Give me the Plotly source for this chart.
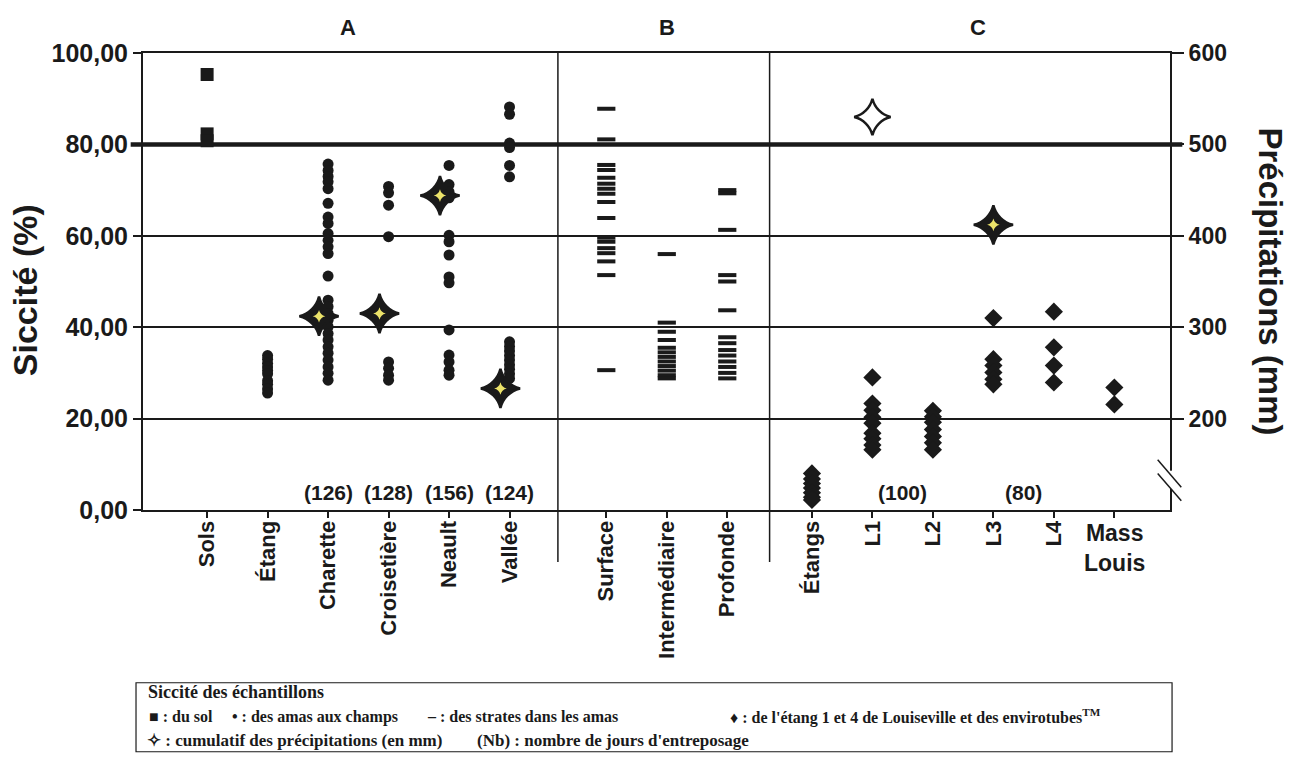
import plotly.graph_objects as go

# ---------------- categories ----------------
cats_A = ["Sols", "Étang", "Charette", "Croisetière", "Neault", "Vallée"]
cats_B = ["Surface", "Intermédiaire", "Profonde"]
cats_C = ["Étangs", "L1", "L2", "L3", "L4", "Mass Louis"]
section_names = ["A", "B", "C"]
horizontal_label = "Mass Louis"   # this tick label is written horizontally in the source

# ---------------- siccité (%) ----------------
# soil (squares)
siccite_sols = [95.3, 82.3, 80.8]
# field piles (dots)
siccite_etang = [33.8, 33.0, 32.1, 31.3, 30.5, 29.8, 28.3, 27.5, 26.5, 25.6]
siccite_charette = [75.7, 74.3, 73.0, 71.8, 70.3, 67.1, 64.1, 62.7, 60.5, 59.0, 57.6,
                    56.1, 51.2, 45.9, 44.5, 43.0, 41.5, 40.1, 38.6, 37.2, 35.7, 34.3,
                    32.8, 31.3, 29.9, 28.4]
siccite_croisetiere = [70.8, 69.4, 66.7, 59.8, 32.4, 31.0, 29.5, 28.4]
siccite_neault = [75.4, 71.2, 69.6, 68.3, 60.1, 58.7, 55.8, 51.0, 49.7, 39.4, 33.9,
                  32.4, 30.6, 29.5]
siccite_vallee = [88.2, 86.6, 80.3, 79.3, 75.4, 72.9, 36.8, 35.8, 34.8, 33.8, 32.8,
                  31.8, 30.8, 29.8, 28.8]
# strata in piles (dashes)
siccite_surface = [87.8, 81.1, 75.5, 74.4, 72.7, 71.4, 70.3, 69.2, 67.4, 63.9, 59.6,
                   58.7, 57.3, 56.2, 54.4, 51.4, 30.6]
siccite_intermediaire = [56.0, 41.0, 39.0, 37.2, 35.5, 34.5, 33.5, 32.5, 31.5, 30.5,
                         29.5, 28.8]
siccite_profonde = [70.0, 69.3, 61.3, 51.4, 50.0, 43.7, 37.8, 36.5, 35.0, 33.8, 32.5,
                    31.3, 30.0, 28.8]
# ponds / envirotubes (diamonds)
siccite_etangs = [8.0, 6.8, 5.8, 4.8, 3.8, 2.8, 2.2]
siccite_l1 = [29.0, 23.3, 21.8, 20.3, 19.0, 16.8, 15.6, 14.2, 13.2]
siccite_l2 = [21.7, 20.4, 19.2, 17.6, 16.1, 14.7, 13.2]
siccite_l3 = [42.0, 33.0, 31.6, 30.1, 28.6, 27.5]
siccite_l4 = [43.4, 35.6, 31.6, 27.9]
siccite_mass = [26.8, 23.1]

# ---------------- cumulative precipitation (mm) ----------------
precip_cats = ["Charette", "Croisetière", "Neault", "Vallée", "L1", "L3"]
precip_mm = [312, 315, 444, 233, 530, 412]
precip_open = ["L1"]          # star drawn hollow (white) in the source

# ---------------- storage days ----------------
days_values = [126, 128, 156, 124, 100, 80]
days_between = [("Charette", "Charette"), ("Croisetière", "Croisetière"),
                ("Neault", "Neault"), ("Vallée", "Vallée"), ("L1", "L2"), ("L3", "L4")]

y_ticks = [0, 20, 40, 60, 80, 100]
y2_ticks = [200, 300, 400, 500, 600]

# ---------------- layout helpers ----------------
section_start = {"A": 0.0, "B": 6.6, "C": 10.0}
pos = {}
for sec, cats in zip(section_names, [cats_A, cats_B, cats_C]):
    for i, c in enumerate(cats):
        pos[c] = section_start[sec] + i

FONT = "Liberation Sans, Arial, sans-serif"
SERIF = "Liberation Serif, Times New Roman, serif"
BLACK = "#1a1a1a"

fig = go.Figure()


def add_group(groups, symbol, size, extra=None):
    xs, ys = [], []
    for cat, vals in groups:
        xs += [pos[cat]] * len(vals)
        ys += vals
    marker = dict(symbol=symbol, size=size, color=BLACK, opacity=1)
    if extra:
        marker.update(extra)
    fig.add_trace(go.Scatter(x=xs, y=ys, mode="markers", marker=marker,
                             hoverinfo="y", showlegend=False))


add_group([("Sols", siccite_sols)], "square", 13)
add_group([("Étang", siccite_etang), ("Charette", siccite_charette),
           ("Croisetière", siccite_croisetiere), ("Neault", siccite_neault),
           ("Vallée", siccite_vallee)], "circle", 11)
add_group([("Surface", siccite_surface), ("Intermédiaire", siccite_intermediaire),
           ("Profonde", siccite_profonde)], "line-ew", 13,
          dict(line=dict(width=4, color=BLACK)))
add_group([("Étangs", siccite_etangs), ("L1", siccite_l1), ("L2", siccite_l2),
           ("L3", siccite_l3), ("L4", siccite_l4), ("Mass Louis", siccite_mass)],
          "diamond", 14)

# precipitation stars (secondary axis)
star_x = [pos[c] - (0.15 if c in cats_A else 0.0) for c in precip_cats]
base_col = ["white" if c in precip_open else BLACK for c in precip_cats]
base_size = [26 if c in precip_open else 28 for c in precip_cats]
fig.add_trace(go.Scatter(x=star_x, y=precip_mm, yaxis="y2", mode="markers",
                         marker=dict(symbol="star-diamond", size=base_size, color=base_col,
                                     opacity=1, line=dict(color=BLACK, width=2.5)),
                         hoverinfo="y", showlegend=False))
inner_x = [x for x, c in zip(star_x, precip_cats) if c not in precip_open]
inner_y = [v for v, c in zip(precip_mm, precip_cats) if c not in precip_open]
fig.add_trace(go.Scatter(x=inner_x, y=inner_y, yaxis="y2", mode="markers",
                         marker=dict(symbol="star-diamond", size=9, opacity=1,
                                     color="#ece36a", line=dict(width=0)),
                         hoverinfo="skip", showlegend=False))

all_cats = cats_A + cats_B + cats_C
label_cats = [c for c in all_cats if c != horizontal_label]

shapes = []
# thick 80 line
shapes.append(dict(type="line", xref="paper", yref="y", x0=-0.012, x1=1.012, y0=80, y1=80,
                   line=dict(color=BLACK, width=4.5), layer="below"))
# section dividers
for a, b in [("Vallée", "Surface"), ("Profonde", "Étangs")]:
    xm = (pos[a] + pos[b]) / 2
    shapes.append(dict(type="line", xref="x", yref="paper", x0=xm, x1=xm, y0=-0.114, y1=1,
                       line=dict(color=BLACK, width=1.5)))
# right axis break
shapes.append(dict(type="rect", xref="paper", yref="y", x0=0.994, x1=1.006, y0=4.6, y1=8.6,
                   fillcolor="white", line=dict(width=0), layer="above"))
for dy in [0, 3]:
    shapes.append(dict(type="line", xref="paper", yref="y", x0=0.988, x1=1.011,
                       y0=11.0 - dy, y1=5.0 - dy, line=dict(color=BLACK, width=1.5)))
# legend box
shapes.append(dict(type="rect", xref="paper", yref="paper", x0=-0.0068, x1=1.002,
                   y0=-0.529, y1=-0.378, line=dict(color=BLACK, width=1.2),
                   fillcolor="white"))

ann = []
# section titles
for sec, xc in zip(section_names, [2.33, 7.6, 12.75]):
    ann.append(dict(text=sec, x=xc, xref="x", y=1.056, yref="paper", showarrow=False,
                    xanchor="center", yanchor="middle",
                    font=dict(family=FONT, size=22, color=BLACK, weight="bold")))
# storage days
for d, (a, b) in zip(days_values, days_between):
    ann.append(dict(text=f"({d})", x=(pos[a] + pos[b]) / 2, xref="x", y=3.8, yref="y",
                    showarrow=False, xanchor="center", yanchor="middle",
                    font=dict(family=FONT, size=21, color=BLACK, weight="bold")))
# horizontal tick label
ann.append(dict(text=horizontal_label.replace(" ", "<br>"), x=pos[horizontal_label],
                xref="x", y=-0.083, yref="paper",
                showarrow=False, align="center", xanchor="center", yanchor="middle",
                font=dict(family=FONT, size=23, color=BLACK, weight="bold")))
# axis titles
ann.append(dict(text="Siccité (%)", x=-0.1149, xref="paper", y=0.481, yref="paper",
                textangle=-90, showarrow=False, xanchor="center", yanchor="middle",
                font=dict(family=FONT, size=34, color=BLACK, weight="bold")))
ann.append(dict(text="Précipitations (mm)", x=1.0974, xref="paper", y=0.500, yref="paper",
                textangle=90, showarrow=False, xanchor="center", yanchor="middle",
                font=dict(family=FONT, size=33, color=BLACK, weight="bold")))


# legend text
def px_x(px):
    return (px - 143) / 1027.0


def px_y(py):
    return (510 - py) / 457.5


legend_items = [
    ("Siccité des échantillons", 146, 692, 18),
    ("■ : du sol", 147, 717, 16),
    ("• : des amas aux champs", 230, 717, 16),
    ("– : des strates dans les amas", 425, 717, 16),
    ("♦ : de l'étang 1 et 4 de Louiseville et des envirotubes<sup>TM</sup>", 728, 717, 16),
    ("✧ : cumulatif des précipitations (en mm)", 145, 741, 17),
    ("(Nb) : nombre de jours d'entreposage", 475, 741, 17),
]
for txt, lx, ly, fs in legend_items:
    ann.append(dict(text=txt, x=px_x(lx), xref="paper", y=px_y(ly), yref="paper",
                    xanchor="left", yanchor="middle", showarrow=False,
                    font=dict(family=SERIF, size=fs, color=BLACK, weight="bold")))

fig.update_layout(
    width=1292, height=773,
    margin=dict(l=143, r=122, t=52.5, b=263, pad=0),
    plot_bgcolor="white", paper_bgcolor="white",
    showlegend=False, separators=",.",
    shapes=shapes, annotations=ann,
    xaxis=dict(range=[-1.06, 15.92], tickmode="array",
               tickvals=[pos[c] for c in label_cats], ticktext=label_cats,
               tickangle=-90, ticks="", showline=True, linecolor=BLACK,
               linewidth=2, mirror=True, showgrid=False, zeroline=False,
               minor=dict(tickmode="array", tickvals=[pos[c] for c in all_cats],
                          ticks="outside", ticklen=6, tickwidth=2, tickcolor=BLACK,
                          showgrid=False),
               tickfont=dict(family=FONT, size=22, color=BLACK, weight="bold")),
    yaxis=dict(range=[0, 100], tickmode="array", tickvals=y_ticks, tickformat=".2f",
               ticks="outside", ticklen=8, tickwidth=2, tickcolor=BLACK,
               showline=True, linecolor=BLACK, linewidth=2, showgrid=True,
               gridcolor=BLACK, gridwidth=2, zeroline=False,
               tickfont=dict(family=FONT, size=25, color=BLACK, weight="bold")),
    yaxis2=dict(overlaying="y", side="right", range=[100, 600], tickmode="array",
                tickvals=y2_ticks, ticks="outside", ticklen=12, tickwidth=2,
                tickcolor=BLACK, showline=True, linecolor=BLACK, linewidth=2,
                showgrid=False, zeroline=False,
                tickfont=dict(family=FONT, size=23, color=BLACK, weight="bold")),
)

fig.write_html("out.html")
